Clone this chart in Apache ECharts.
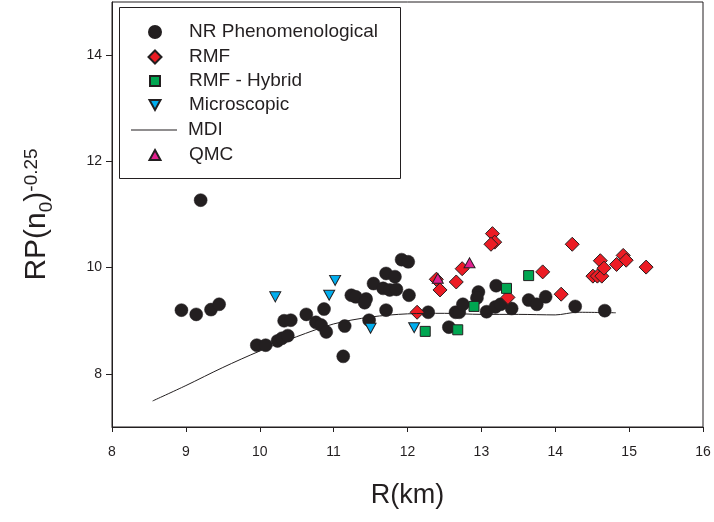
<!DOCTYPE html>
<html>
<head>
<meta charset="utf-8">
<script src="https://cdn.jsdelivr.net/npm/echarts@6.0.0/dist/echarts.min.js"></script>
<style>
  html, body { margin: 0; padding: 0; background: #fff; }
  #main { width: 714px; height: 522px; }
</style>
</head>
<body>
<div id="main"></div>
<script>
// NR Phenomenological
var nrData = [
  [9.20, 11.27], [8.94, 9.20], [9.14, 9.12], [9.34, 9.21], [9.45, 9.31],
  [9.96, 8.54], [10.08, 8.54], [10.24, 8.62], [10.30, 8.67], [10.38, 8.72],
  [10.33, 9.00], [10.42, 9.01], [10.63, 9.12], [10.76, 8.97], [10.83, 8.92],
  [10.90, 8.79], [10.87, 9.22], [11.15, 8.90], [11.13, 8.33], [11.24, 9.48],
  [11.30, 9.45], [11.44, 9.41], [11.42, 9.34], [11.48, 9.01], [11.54, 9.70],
  [11.71, 9.89], [11.83, 9.83], [11.67, 9.61], [11.76, 9.58], [11.85, 9.59],
  [11.92, 10.15], [12.01, 10.11], [12.02, 9.48], [11.71, 9.20], [12.28, 9.16],
  [12.56, 8.88], [12.65, 9.16], [12.70, 9.16], [12.75, 9.31], [12.96, 9.54],
  [12.94, 9.43], [13.07, 9.17], [13.19, 9.26], [13.20, 9.66], [13.26, 9.31],
  [13.41, 9.23], [13.64, 9.39], [13.75, 9.31], [13.87, 9.45], [14.27, 9.27],
  [14.67, 9.19]
];
// RMF
var rmfData = [
  [12.13, 9.16], [12.39, 9.78], [12.44, 9.58], [12.66, 9.73], [12.74, 9.98],
  [13.15, 10.64], [13.18, 10.48], [13.13, 10.44], [13.36, 9.44], [13.83, 9.92],
  [14.08, 9.50], [14.23, 10.44], [14.51, 9.84], [14.57, 9.84], [14.63, 9.84],
  [14.61, 10.13], [14.66, 9.99], [14.83, 10.06], [14.92, 10.23], [14.96, 10.14],
  [15.23, 10.01]
];
// RMF - Hybrid
var hybridData = [
  [12.24, 8.80], [12.68, 8.83], [12.90, 9.27], [13.34, 9.61], [13.64, 9.85]
];
// Microscopic
var microData = [
  [10.21, 9.45], [11.02, 9.76], [10.94, 9.48], [11.50, 8.86], [12.09, 8.87]
];
// MDI curve
var mdiData = [
  [8.55, 7.49], [9.0, 7.78], [9.5, 8.12], [10.0, 8.43], [10.5, 8.70],
  [11.0, 8.94], [11.5, 9.07], [12.0, 9.13], [12.5, 9.14], [13.0, 9.12],
  [13.5, 9.12], [14.0, 9.11], [14.3, 9.16], [14.82, 9.15]
];
// QMC
var qmcData = [
  [12.41, 9.80], [12.84, 10.09]
];

var yTickValues = [8, 10, 12, 14];
var FONT = "'Liberation Sans', Arial, sans-serif";
var INK = "#231f20";

// legend: one small legend per row so every marker keeps its own size
var legendRows = [
  { name: "NR Phenomenological", icon: "circle", w: 12, h: 12 },
  { name: "RMF", icon: "diamond", w: 13, h: 13 },
  { name: "RMF - Hybrid", icon: "rect", w: 10, h: 10 },
  { name: "Microscopic", icon: "path://M0,0L11,0L5.5,10Z", w: 11, h: 10 },
  { name: "MDI", icon: "rect", w: 46, h: 1 },
  { name: "QMC", icon: "triangle", w: 11, h: 10 }
];
var rowCenters = [32, 57, 81, 105, 130, 155];

function makeLegend(row, i) {
  var lh = 20;
  var cx = 154;
  return {
    orient: "vertical",
    left: cx - row.w / 2,
    top: rowCenters[i] - lh / 2,
    padding: 0,
    itemWidth: row.w,
    itemHeight: row.h,
    selectedMode: false,
    textStyle: {
      fontFamily: FONT,
      fontSize: 19,
      lineHeight: lh,
      color: INK,
      padding: [0, 0, 0, 188 - (cx + row.w / 2) - 5]
    },
    data: [{ name: row.name, icon: row.icon }]
  };
}

var chart = echarts.init(document.getElementById("main"));

chart.setOption({
  backgroundColor: "#fff",
  animation: false,
  grid: {
    left: 112,
    right: 11,
    top: 2,
    bottom: 95,
    show: true,
    borderColor: INK,
    borderWidth: 1,
    outerBoundsMode: "none"
  },
  graphic: [
    {
      type: "rect",
      z: 3,
      shape: { x: 119.5, y: 7.5, width: 281, height: 171 },
      style: { fill: "#fff", stroke: INK, lineWidth: 1 }
    }
  ],
  legend: legendRows.map(makeLegend),
  xAxis: {
    type: "value",
    min: 8,
    max: 16,
    interval: 1,
    name: "R(km)",
    nameLocation: "middle",
    nameGap: 55,
    nameTextStyle: { fontFamily: FONT, fontSize: 27, color: INK },
    axisLine: { show: true, lineStyle: { color: INK, width: 1 } },
    axisTick: { show: true, length: 5, lineStyle: { color: INK } },
    axisLabel: { fontFamily: FONT, fontSize: 14, color: INK, margin: 18 },
    splitLine: { show: false }
  },
  yAxis: {
    type: "value",
    min: 7,
    max: 15,
    interval: 1,
    name: "{a|RP(n}{b|0}{a|)}{c|-0.25}",
    nameLocation: "middle",
    nameRotate: 90,
    nameGap: 60,
    nameTextStyle: {
      fontFamily: FONT,
      color: INK,
      rich: {
        a: { fontFamily: FONT, fontSize: 30, lineHeight: 30, verticalAlign: "top", color: INK },
        b: { fontFamily: FONT, fontSize: 19, lineHeight: 19, verticalAlign: "top", padding: [15, 0, 0, 0], color: INK },
        c: { fontFamily: FONT, fontSize: 19, lineHeight: 19, verticalAlign: "top", color: INK }
      }
    },
    axisLine: { show: true, lineStyle: { color: INK, width: 1 } },
    axisTick: { show: true, length: 6, customValues: yTickValues, lineStyle: { color: INK } },
    axisLabel: { fontFamily: FONT, fontSize: 14, color: INK, margin: 10, customValues: yTickValues },
    splitLine: { show: false }
  },
  series: [
    {
      name: "NR Phenomenological",
      type: "scatter",
      symbol: "circle",
      symbolSize: 13,
      data: nrData,
      itemStyle: { color: INK, borderColor: INK, borderWidth: 0.5, opacity: 1 }
    },
    {
      name: "RMF",
      type: "scatter",
      symbol: "diamond",
      symbolSize: 14,
      data: rmfData,
      itemStyle: { color: "#ec1c24", borderColor: INK, borderWidth: 1, opacity: 1 }
    },
    {
      name: "RMF - Hybrid",
      type: "scatter",
      symbol: "rect",
      symbolSize: 10,
      data: hybridData,
      itemStyle: { color: "#00a651", borderColor: INK, borderWidth: 1, opacity: 1 }
    },
    {
      name: "Microscopic",
      type: "scatter",
      symbol: "triangle",
      symbolRotate: 180,
      symbolSize: [11, 10],
      data: microData,
      itemStyle: { color: "#00aeef", borderColor: INK, borderWidth: 1, opacity: 1 }
    },
    {
      name: "MDI",
      type: "line",
      data: mdiData,
      symbol: "none",
      showSymbol: false,
      smooth: 0.3,
      lineStyle: { color: INK, width: 1 },
      itemStyle: { color: INK }
    },
    {
      name: "QMC",
      type: "scatter",
      symbol: "triangle",
      symbolSize: [11, 10],
      data: qmcData,
      itemStyle: { color: "#e2208f", borderColor: INK, borderWidth: 1, opacity: 1 }
    }
  ]
});
</script>
</body>
</html>
